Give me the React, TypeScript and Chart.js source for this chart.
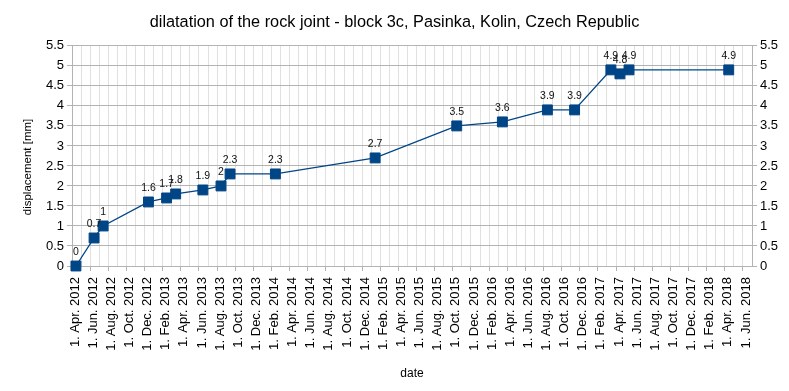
import React, { useEffect, useRef } from "react";
import { Chart, registerables } from "chart.js";

Chart.register(...registerables);

const TITLE = "dilatation of the rock joint - block 3c, Pasinka, Kolin, Czech Republic";
const X_TITLE = "date";
const Y_TITLE = "displacement [mm]";

const measureDates = [
  "2012-04-14", "2012-06-14", "2012-07-14", "2012-12-14", "2013-02-14",
  "2013-03-14", "2013-06-14", "2013-08-14", "2013-09-14", "2014-02-14",
  "2015-01-14", "2015-10-14", "2016-03-15", "2016-08-14", "2016-11-14",
  "2017-03-14", "2017-04-14", "2017-05-14", "2018-04-14",
];
const displacement = [
  0, 0.7, 1, 1.6, 1.7, 1.8, 1.9, 2, 2.3, 2.3, 2.7, 3.5, 3.6, 3.9, 3.9, 4.9, 4.8, 4.9, 4.9,
];
const monthNames = ["Jan.", "Feb.", "Mar.", "Apr.", "May", "Jun.", "Jul.", "Aug.", "Sep.", "Oct.", "Nov.", "Dec."];
const axisStartYear = 2012;
const axisStartMonth = 3; // April (0-based)
const axisMonths = 75; // 1. Apr. 2012 .. 1. Jul. 2018
const yMin = 0;
const yMax = 5.5;
const yStep = 0.5;

const FONT = "'Liberation Sans', Arial, sans-serif";

function toMonthOffset(d: string): number {
  const [y, m, day] = d.split("-").map(Number);
  return (y - axisStartYear) * 12 + (m - 1 - axisStartMonth) + (day - 1) / 30;
}

function monthLabel(v: number): string {
  const idx = axisStartMonth + v;
  const year = axisStartYear + Math.floor(idx / 12);
  return `1. ${monthNames[idx % 12]} ${year}`;
}

const pointLabels = {
  id: "pointLabels",
  afterDatasetsDraw(chart: any) {
    const ctx = chart.ctx;
    const meta = chart.getDatasetMeta(0);
    ctx.save();
    ctx.font = `10.5px ${FONT}`;
    ctx.fillStyle = "#111";
    ctx.textAlign = "center";
    ctx.textBaseline = "middle";
    meta.data.forEach((pt: any, i: number) => {
      ctx.fillText(String(displacement[i]), pt.x, pt.y - 14);
    });
    ctx.restore();
  },
};

const yAxisTitle = {
  id: "yAxisTitle",
  afterDraw(chart: any) {
    const ctx = chart.ctx;
    ctx.save();
    ctx.font = `11.5px ${FONT}`;
    ctx.fillStyle = "#000";
    ctx.textAlign = "center";
    ctx.textBaseline = "middle";
    ctx.translate(28, 167);
    ctx.rotate(-Math.PI / 2);
    ctx.fillText(Y_TITLE, 0, 0);
    ctx.restore();
  },
};

const yTickFmt = (v: any) => String(Math.round(Number(v) * 10) / 10);

export default function App() {
  const ref = useRef<HTMLCanvasElement>(null);
  useEffect(() => {
    if (!ref.current) return;
    const data = measureDates.map((d, i) => ({ x: toMonthOffset(d), y: displacement[i] }));
    const chart = new Chart(ref.current, {
      type: "line",
      data: {
        datasets: [
          {
            data,
            borderColor: "#004586",
            backgroundColor: "#004586",
            borderWidth: 1.3,
            pointStyle: "rect",
            pointRadius: 7,
            pointBackgroundColor: "#004586",
            pointBorderColor: "#004586",
            pointBorderWidth: 1,
            clip: false,
            tension: 0,
          } as any,
        ],
      },
      options: {
        responsive: false,
        animation: false,
        layout: { padding: 0 },
        plugins: {
          legend: { display: false },
          tooltip: { enabled: false },
          title: {
            display: true,
            text: TITLE,
            color: "#000",
            font: { family: FONT, size: 16.3, weight: "normal" },
            padding: { top: 13, bottom: 13.3 },
          },
        },
        scales: {
          x: {
            type: "linear",
            min: 0,
            max: axisMonths,
            afterFit: (s: any) => { s.height = 125; },
            ticks: {
              stepSize: 1,
              autoSkip: false,
              minRotation: 90,
              maxRotation: 90,
              padding: 6,
              labelOffset: 3,
              color: "#000",
              font: { family: FONT, size: 13 },
              callback: (v: any) => (Number(v) % 2 === 0 ? monthLabel(Number(v)) : ""),
            },
            grid: {
              color: "#e0e0e0",
              lineWidth: 1,
              tickLength: 5,
              tickColor: (c: any) => (c.tick && c.tick.value % 2 === 0 ? "#b3b3b3" : "rgba(0,0,0,0)"),
            },
            border: { color: "#b3b3b3" },
            title: {
              display: true,
              text: X_TITLE,
              color: "#000",
              font: { family: FONT, size: 12 },
              padding: { top: 0, bottom: 10 },
            },
          },
          y: {
            position: "left",
            min: yMin,
            max: yMax,
            afterFit: (s: any) => { s.width = 72; },
            ticks: {
              stepSize: yStep,
              color: "#000",
              padding: 3,
              font: { family: FONT, size: 13 },
              callback: yTickFmt,
            },
            grid: { color: "#b3b3b3", tickLength: 5 },
            border: { color: "#b3b3b3" },
          },
          y2: {
            position: "right",
            min: yMin,
            max: yMax,
            afterFit: (s: any) => { s.width = 37; },
            ticks: {
              stepSize: yStep,
              color: "#000",
              padding: 3,
              font: { family: FONT, size: 13 },
              callback: yTickFmt,
            },
            grid: { drawOnChartArea: false, color: "#b3b3b3", tickLength: 5 },
            border: { color: "#b3b3b3" },
          },
        },
      } as any,
      plugins: [pointLabels, yAxisTitle],
    });
    return () => chart.destroy();
  }, []);
  return (
    <div style={{ position: "fixed", left: 0, top: 0, width: 789, height: 391, background: "#fff" }}>
      <canvas ref={ref} width={789} height={391} style={{ display: "block" }} />
    </div>
  );
}
